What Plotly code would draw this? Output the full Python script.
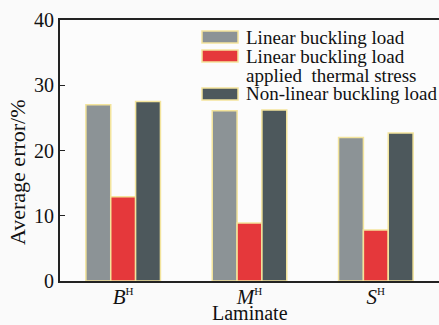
import plotly.graph_objects as go

# Average error of buckling-load predictions per laminate
laminates = [
    "<i>B</i><sup><span style='font-size:11px'>H</span></sup>",
    "<i>M</i><sup><span style='font-size:11px'>H</span></sup>",
    "<i>S</i><sup><span style='font-size:11px'>H</span></sup>",
]
series_names = [
    "Linear buckling load",
    "Linear buckling load<br>applied  thermal stress",
    "Non-linear buckling load",
]
linear_load = [27.0, 26.1, 22.0]
linear_thermal = [12.9, 8.9, 7.8]
nonlinear_load = [27.5, 26.2, 22.7]
y_ticks = [0, 10, 20, 30, 40]

colors = ["#8c9396", "#e5383b", "#4d585c"]
edge = "#f3e49c"
font = "Liberation Serif"

W, H = 439, 325
ml, mr, mt, mb = 60, 0, 20, 44
pw, ph = W - ml - mr, H - mt - mb

fig = go.Figure()
for name, vals, col in zip(series_names, [linear_load, linear_thermal, nonlinear_load], colors):
    fig.add_trace(go.Bar(
        x=laminates, y=vals, name=name,
        marker=dict(color=col, line=dict(color=edge, width=1.5)),
        showlegend=False,
    ))

# Hand-drawn legend block (wide swatches, top right)
def px_x(x):
    return (x - ml) / pw

def px_y(y):
    return (H - mb - y) / ph

legend_rows = [(31, 43), (50, 62), (88, 100)]
shapes = []
annotations = []
for (y0, y1), name, col in zip(legend_rows, series_names, colors):
    shapes.append(dict(type="rect", xref="paper", yref="paper",
                       x0=px_x(202), x1=px_x(238), y0=px_y(y1), y1=px_y(y0),
                       fillcolor=col, line=dict(color=edge, width=1.5)))
    for i, line in enumerate(name.split("<br>")):
        yc = (y0 + y1) / 2 + i * 19
        annotations.append(dict(text=line, xref="paper", yref="paper",
                                x=px_x(244), y=px_y(yc), xanchor="left", yanchor="middle",
                                showarrow=False, font=dict(family=font, size=19, color="#111")))

# Axis titles placed directly
annotations.append(dict(text="Laminate", xref="paper", yref="paper",
                        x=0.5, y=px_y(313), xanchor="center", yanchor="middle",
                        showarrow=False, font=dict(family=font, size=20, color="#111")))
annotations.append(dict(text="Average error/%", xref="paper", yref="paper",
                        x=px_x(17), y=px_y(172), xanchor="center", yanchor="middle",
                        textangle=-90, showarrow=False,
                        font=dict(family=font, size=22, color="#111")))

fig.update_layout(
    width=W, height=H,
    margin=dict(l=ml, r=mr, t=mt, b=mb),
    paper_bgcolor="#fafafa", plot_bgcolor="#fcfcfc",
    barmode="group", bargap=0.41, bargroupgap=0,
    shapes=shapes, annotations=annotations,
    font=dict(family=font, color="#111"),
    xaxis=dict(
        range=[-0.5, 2.5], showline=True, linecolor="#222", linewidth=2, mirror=True,
        ticks="", showgrid=False, tickfont=dict(size=21), ticklabelstandoff=-4,
    ),
    yaxis=dict(
        range=[0, 40], tickvals=y_ticks, showline=True, linecolor="#222", linewidth=2,
        ticks="inside", ticklen=5, tickcolor="#222", showgrid=False, zeroline=False,
        tickfont=dict(size=20),
    ),
)

fig.write_html("out.html")
